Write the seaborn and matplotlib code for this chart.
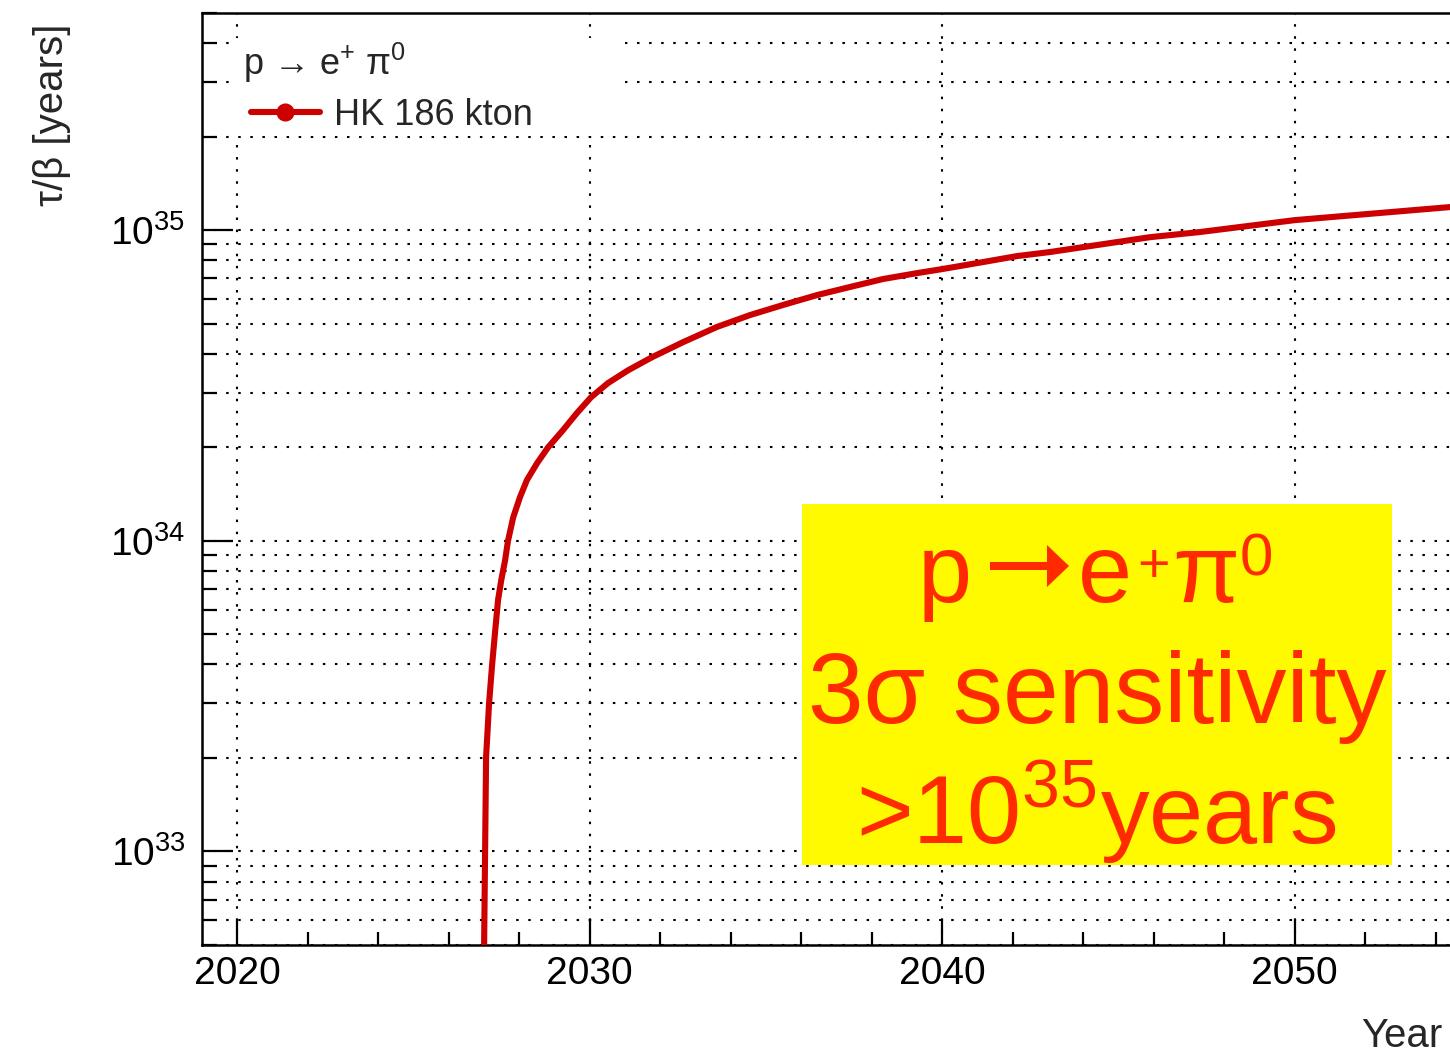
import numpy as np
import pandas as pd
import seaborn as sns
import matplotlib
matplotlib.use("Agg")
import matplotlib.pyplot as plt
from matplotlib.ticker import MultipleLocator, LogLocator, NullFormatter
from matplotlib.lines import Line2D
from matplotlib.patches import Rectangle, FancyArrow

# ---------------- data ----------------
years = [2027.00, 2027.06, 2027.145, 2027.23, 2027.32, 2027.40, 2027.49, 2027.60,
         2027.68, 2027.83, 2028.02, 2028.22, 2028.51, 2028.82, 2029.24, 2029.64,
         2030.04, 2030.52, 2031.09, 2031.77, 2032.65, 2033.61, 2034.55, 2035.48,
         2036.45, 2037.38, 2038.32, 2039.28, 2039.99, 2041.15, 2042.12, 2043.05,
         2045.89, 2047.31, 2050.00, 2054.39, 2054.70]
lifetime = [4.5e32, 2.01e33, 3.0e33, 3.98e33, 5.16e33, 6.45e33, 7.47e33, 8.66e33,
            9.98e33, 1.19e34, 1.38e34, 1.57e34, 1.78e34, 2.00e34, 2.27e34, 2.58e34,
            2.90e34, 3.22e34, 3.54e34, 3.90e34, 4.36e34, 4.88e34, 5.33e34, 5.74e34,
            6.18e34, 6.56e34, 6.96e34, 7.27e34, 7.49e34, 7.89e34, 8.25e34, 8.50e34,
            9.49e34, 9.86e34, 1.077e35, 1.186e35, 1.19e35]
series_label = "HK 186 kton"
legend_header = r"p → e$^{+}$ π$^{0}$"
x_label = "Year"
y_label = "τ/β [years]"
box_line2 = "3σ sensitivity"
box_line3 = r">10$^{35}$years"

df = pd.DataFrame({"year": years, "tau": lifetime})

# ---------------- style ----------------
sns.set_style("ticks")
plt.rcParams["font.family"] = ["Liberation Sans", "DejaVu Sans"]
plt.rcParams["mathtext.fontset"] = "custom"
plt.rcParams["mathtext.rm"] = "Liberation Sans"
plt.rcParams["mathtext.it"] = "Liberation Sans"
plt.rcParams["mathtext.bf"] = "Liberation Sans:bold"
plt.rcParams["mathtext.sf"] = "Liberation Sans"
plt.rcParams["mathtext.fallback"] = "stixsans"

W, H = 1450, 1056
fig = plt.figure(figsize=(W / 100, H / 100), dpi=100)
fig.patch.set_facecolor("white")


def ftext(xp, yp, s, **kw):
    return fig.text(xp / W, 1 - yp / H, s, **kw)


ax_l, ax_r, ax_t, ax_b = 202, 1455, 13, 945
ax = fig.add_axes([ax_l / W, 1 - ax_b / H, (ax_r - ax_l) / W, (ax_b - ax_t) / H])
ax.set_facecolor("white")

red = "#CC0000"
sns.lineplot(data=df, x="year", y="tau", ax=ax, color=red, lw=4.4,
             sort=False, legend=False, zorder=3)

ax.set_yscale("log")
ax.set_xlim(2019.0, 2054.55)
ax.set_ylim(5e32, 5e35)

ax.xaxis.set_major_locator(MultipleLocator(10))
ax.xaxis.set_minor_locator(MultipleLocator(2))
ax.yaxis.set_major_locator(LogLocator(base=10, numticks=10))
ax.yaxis.set_minor_locator(LogLocator(base=10, subs=np.arange(2, 10), numticks=20))
ax.yaxis.set_minor_formatter(NullFormatter())

ax.tick_params(axis="both", which="both", direction="in", colors="black",
               width=1.6, labelsize=28)
ax.tick_params(axis="x", which="major", length=19, pad=8)
ax.tick_params(axis="x", which="minor", length=9.5)
ax.tick_params(axis="y", which="major", length=22, pad=12)
ax.tick_params(axis="y", which="minor", length=11)

grid_kw = dict(color="black", lw=1.5, linestyle=(0, (1.2, 4.6)))
ax.set_axisbelow(True)
ax.grid(True, axis="x", which="major", **grid_kw)
ax.grid(True, axis="y", which="both", **grid_kw)
ax.grid(False, axis="x", which="minor")

for s in ["left", "bottom", "top"]:
    ax.spines[s].set_linewidth(1.8)
    ax.spines[s].set_color("black")
ax.spines["right"].set_visible(False)
ax.set_xlabel("")
ax.set_ylabel("")

# white legend panel covering the grid
ax.add_patch(Rectangle((30 / (ax_r - ax_l), (ax_b - 136) / (ax_b - ax_t)),
                       393 / (ax_r - ax_l), 98 / (ax_b - ax_t),
                       transform=ax.transAxes, facecolor="white", edgecolor="none",
                       zorder=1))

# legend header + entry
ftext(243, 75, legend_header, ha="left", va="baseline", fontsize=26, zorder=6)
handle = Line2D([], [], color=red, lw=4.4, marker="o", markersize=12)
leg = ax.legend([handle], [series_label], loc="upper left",
                bbox_to_anchor=(233 / W, 1 - 80 / H), bbox_transform=fig.transFigure,
                frameon=False, fontsize=26, borderpad=0,
                handlelength=1.9, handletextpad=0.4)
leg.set_zorder(5)

# axis titles
ftext(52, 24, y_label, rotation=90, ha="center", va="top", fontsize=29)
ftext(1442, 1036, x_label, ha="right", va="center", fontsize=29)

# yellow annotation box
bx0, bx1, by0, by1 = 802, 1392, 504, 865
fig.patches.append(Rectangle((bx0 / W, 1 - by1 / H), (bx1 - bx0) / W, (by1 - by0) / H,
                             transform=fig.transFigure, facecolor="#FFFA00",
                             edgecolor="none", zorder=10))
tc = "#FF2A00"
# line 1: p -> e+ pi0 (pieces)
ftext(918, 602, "p", ha="left", va="baseline", fontsize=70, color=tc, zorder=11)
fig.patches.append(FancyArrow(990 / 100, (H - 566) / 100, 79 / 100, 0,
                              width=8 / 100, head_width=42 / 100, head_length=22 / 100,
                              length_includes_head=True, transform=fig.dpi_scale_trans,
                              facecolor=tc, edgecolor="none", zorder=11))
ftext(1078, 602, "e", ha="left", va="baseline", fontsize=70, color=tc, zorder=11)
ftext(1154, 582, "+", ha="center", va="baseline", fontsize=40, color=tc, zorder=11)
ftext(1172, 602, "π", ha="left", va="baseline", fontsize=70, color=tc, zorder=11)
ftext(1256, 575, "0", ha="center", va="baseline", fontsize=43, color=tc, zorder=11)
# lines 2 and 3
ftext(1097, 723, box_line2, ha="center", va="baseline", fontsize=72, color=tc, zorder=11)
ftext(1096, 843, box_line3, ha="center", va="baseline", fontsize=70, color=tc, zorder=11)

fig.savefig("out.png", dpi=100, facecolor="white")
